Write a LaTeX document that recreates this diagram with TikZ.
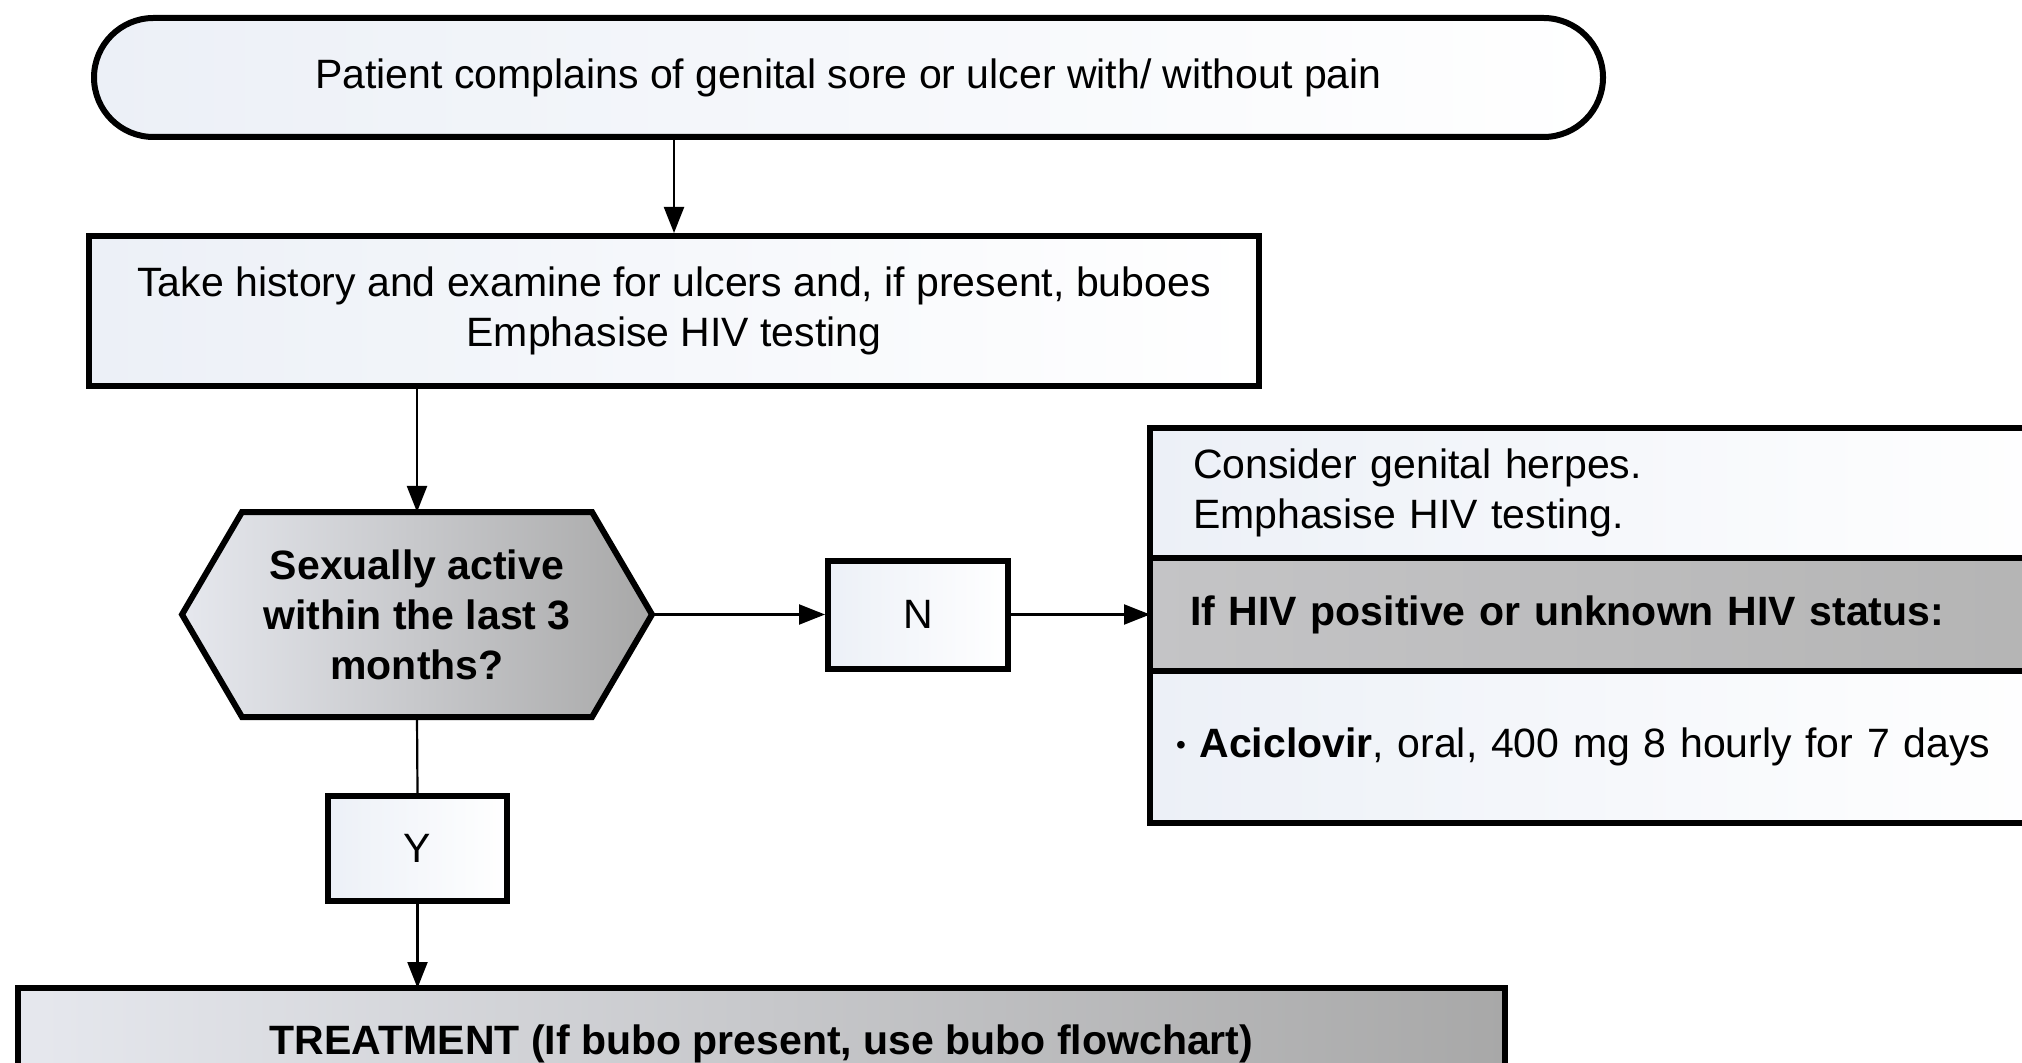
\documentclass[tikz,border=0pt]{standalone}
\usepackage{fontspec}
\setmainfont{Liberation Sans}
\usetikzlibrary{shapes.misc,arrows.meta,calc,backgrounds}
\definecolor{boxlight}{HTML}{ECF0F7}
\definecolor{greylight}{HTML}{E6E8EE}
\definecolor{greydark}{HTML}{A8A8A8}
\definecolor{midleft}{HTML}{C4C4C6}
\definecolor{midmid}{HTML}{E6E7EA}
\definecolor{midright}{HTML}{B4B4B4}
\begin{document}
\begin{tikzpicture}[x=0.5pt,y=-0.5pt,
  every node/.style={font=\fontsize{20.5}{25}\selectfont, inner sep=0pt},
  box/.style={draw=black, line width=3pt, left color=boxlight, right color=white, align=center},
  greybox/.style={draw=black, line width=3pt, left color=greylight, right color=greydark, align=center},
  arr/.style={line width=1.1pt, -{Triangle[length=13pt,width=10pt]}},
  conn/.style={line width=1.1pt}
]
\useasboundingbox (0,0) rectangle (2022,1063);
\clip (0,0) rectangle (2022,1063);

% terminator
\node[box, rounded rectangle, minimum width=754.5pt, minimum height=59.5pt] (start) at (848.5,77.5)
  {Patient complains of genital sore or ulcer with/ without pain};

% history box
\node[box, minimum width=585pt, minimum height=75pt] (hist) at (674,311)
  {Take history and examine for ulcers and, if present, buboes\\Emphasise HIV testing};

% decision hexagon
\node[font=\fontsize{20.5}{25}\selectfont\bfseries, align=center, minimum width=235pt, minimum height=102.5pt, outer sep=0pt] (hex) at (417,614.5)
  {Sexually active\\within the last 3\\months?};
\begin{scope}[on background layer]
  \fill[white] (0,0) rectangle (2022,1063);
  \shadedraw[left color=greylight, right color=greydark, draw=black, line width=3pt, line join=miter]
    (hex.west) -- ($(hex.north west)+(60,0)$) -- ($(hex.north east)+(-60,0)$) -- (hex.east)
    -- ($(hex.south east)+(-60,0)$) -- ($(hex.south west)+(60,0)$) -- cycle;
\end{scope}

% N and Y boxes
\node[box, minimum width=90pt, minimum height=54pt] (nbox) at (918,614.5) {N};
\node[box, minimum width=89.5pt, minimum height=52.5pt] (ybox) at (417.5,848.5) {Y};

% right box (three sections)
\node[box, outer sep=0pt, anchor=north west, align=left, text width=412pt, inner xsep=21.5pt, minimum height=65pt] (rtop) at (1150,428)
  {Consider genital herpes.\\Emphasise HIV testing.};
\node[draw=black, line width=3pt, outer sep=0pt, left color=midleft, middle color=midmid, right color=midright, anchor=north west, align=left, text width=415pt, inner xsep=20pt, minimum height=56.5pt,
      font=\fontsize{20.5}{25}\selectfont\bfseries] (rmid) at (rtop.south west)
  {If HIV positive or unknown HIV status:};
\node[box, outer sep=0pt, anchor=north west, align=left, text width=429pt, inner xsep=13pt, minimum height=76pt] (rbot) at (rmid.south west)
  {{\fontsize{14}{14}\selectfont\raisebox{1.5pt}{\textbullet}} \textbf{Aciclovir}, oral, 400 mg 8 hourly for 7 days};

% treatment box
\node[greybox, outer sep=0pt, anchor=north west, minimum width=743.5pt, minimum height=56pt, font=\fontsize{20.5}{25}\selectfont\bfseries] (treat) at (18,988)
  {TREATMENT (If bubo present, use bubo flowchart)};

% connectors
\draw[arr] (hist.north |- start.south) -- (hist.north);
\draw[arr] (hex.north |- hist.south) -- (hex.north);
\draw[arr] (hex.east) -- (nbox.west);
\draw[arr] (nbox.east) -- (nbox.east -| rmid.west);
\draw[conn] (hex.south) -- (ybox.north);
\draw[arr] (ybox.south) -- (ybox.south |- treat.north);
\end{tikzpicture}
\end{document}
